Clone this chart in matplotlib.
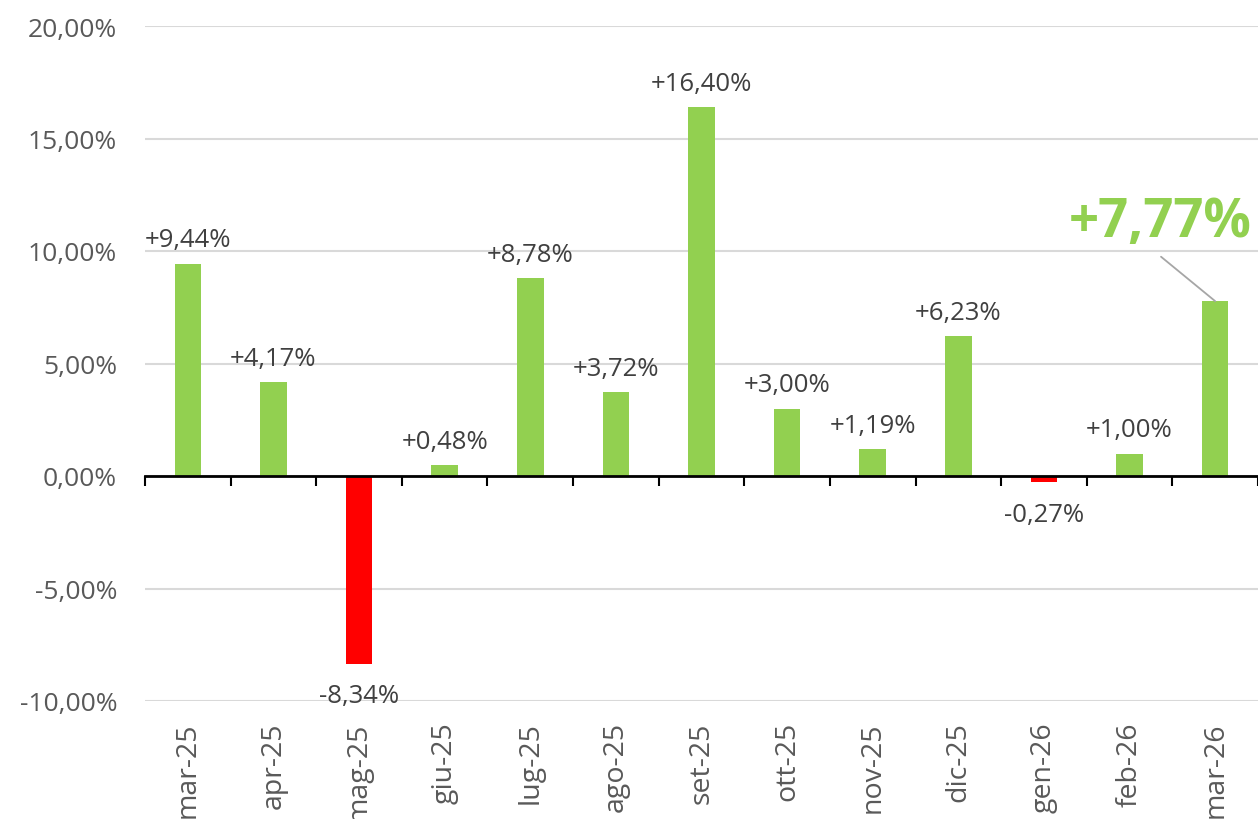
import matplotlib.pyplot as plt
from matplotlib.ticker import FixedLocator

plt.rcParams['font.family'] = ['Open Sans', 'DejaVu Sans']

months = ['mar-25', 'apr-25', 'mag-25', 'giu-25', 'lug-25', 'ago-25', 'set-25',
          'ott-25', 'nov-25', 'dic-25', 'gen-26', 'feb-26', 'mar-26']
changes = [9.44, 4.17, -8.34, 0.48, 8.78, 3.72, 16.40, 3.00, 1.19, 6.23, -0.27, 1.00, 7.77]
yticks = [-10, -5, 0, 5, 10, 15, 20]

GREEN = '#92D050'
RED = '#FF0000'


def fmt(v):
    return '{:+.2f}%'.format(v).replace('.', ',')


fig = plt.figure(figsize=(12.58, 8.2), dpi=100)
ax = fig.add_axes([145 / 1258, 1 - 702 / 820, 1 - 145 / 1258, (702 - 27) / 820])

x = list(range(len(months)))
colors = [GREEN if v >= 0 else RED for v in changes]
ax.bar(x, changes, width=0.31, color=colors, zorder=3)

ax.set_xlim(-0.5, len(months) - 0.5)
ax.set_ylim(-10, 20)

# gridlines
ax.set_yticks(yticks)
ax.set_yticklabels(['{:.2f}%'.format(t).replace('.', ',') for t in yticks])
ax.grid(axis='y', color='#D9D9D9', linewidth=1.5, zorder=0)
ax.tick_params(axis='y', length=0, pad=20, labelsize=19, labelcolor='#595959')

# zero axis with ticks at category boundaries
for s in ['top', 'right', 'left']:
    ax.spines[s].set_visible(False)
ax.spines['bottom'].set_position(('data', 0))
ax.spines['bottom'].set_linewidth(2)
ax.spines['bottom'].set_zorder(4)
ax.xaxis.set_major_locator(FixedLocator([i - 0.5 for i in range(len(months) + 1)]))
ax.tick_params(axis='x', direction='out', length=7.2, width=1.5, labelbottom=False)

# category labels at the bottom
for i, m in enumerate(months):
    ax.text(i, -0.03, m, transform=ax.get_xaxis_transform(), rotation=90,
            ha='center', va='top', fontsize=20.5, color='#595959')

# data labels
for i, v in enumerate(changes[:-1]):
    if v >= 0:
        ax.annotate(fmt(v), xy=(i, v), xytext=(0, 8), textcoords='offset points',
                    ha='center', va='bottom', fontsize=18.5, color='#404040')
    else:
        ax.annotate(fmt(v), xy=(i, v), xytext=(0, -14), textcoords='offset points',
                    ha='center', va='top', fontsize=18.5, color='#404040')

# highlighted last value
last = len(changes) - 1
ax.annotate('', xy=(last, changes[-1]), xytext=(-39, 32), textcoords='offset points',
            arrowprops=dict(arrowstyle='-', color='#A6A6A6', linewidth=1.3,
                            shrinkA=0, shrinkB=0))
ax.annotate(fmt(changes[-1]), xy=(last, changes[-1]), xytext=(26, 57),
            textcoords='offset points', ha='right', va='center', fontsize=38,
            fontweight='bold', color=GREEN, annotation_clip=False)

plt.savefig('out.png', dpi=100)
